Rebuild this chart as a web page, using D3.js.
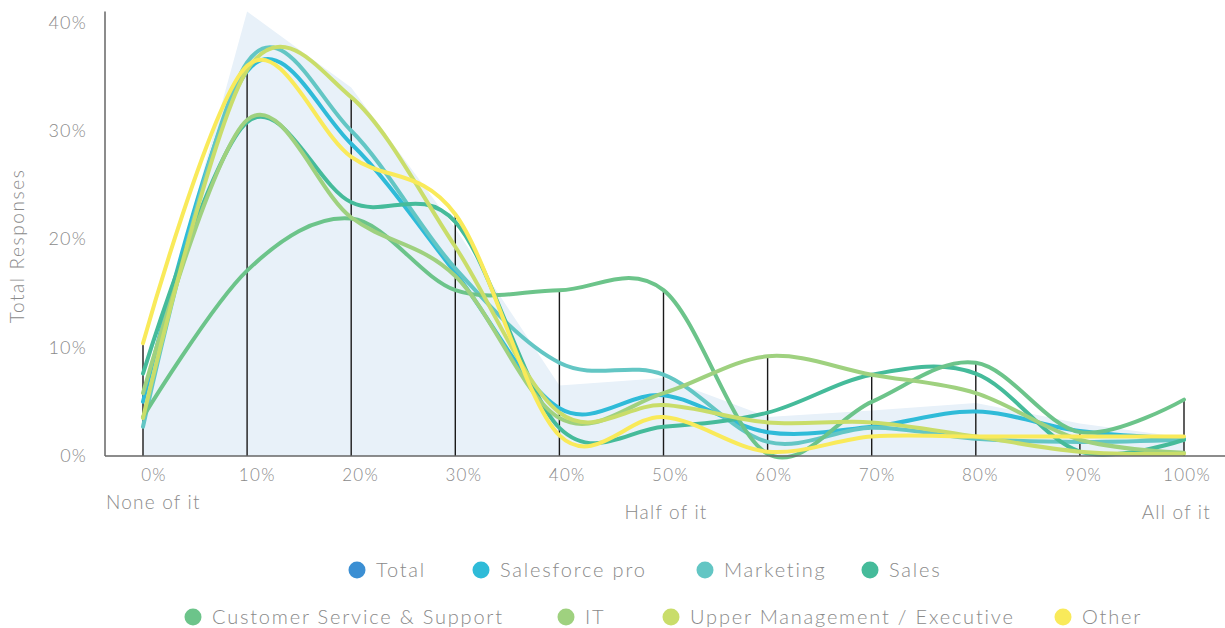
<!DOCTYPE html>
<html>
<head>
<meta charset="utf-8">
<script src="https://cdn.jsdelivr.net/npm/d3@7"></script>
<style>
  html, body { margin: 0; padding: 0; background: #fff; }
  svg { display: block; }
  text { font-family: "Lato", "Open Sans", sans-serif; font-weight: 300; fill: #8a8a8a; }
</style>
</head>
<body>
<svg id="chart" width="1225" height="628"></svg>
<script>
// ---- data ----
const categories = ["0%", "10%", "20%", "30%", "40%", "50%", "60%", "70%", "80%", "90%", "100%"];
const subLabels = ["None of it", "", "", "", "", "Half of it", "", "", "", "", "All of it"];
const yTicks = [0, 10, 20, 30, 40];

const seriesNames = ["Total", "Salesforce pro", "Marketing", "Sales", "Customer Service & Support", "IT", "Upper Management / Executive", "Other"];
const seriesColors = ["#3b8fd3", "#2fbbd8", "#63c6c4", "#45bb9a", "#6cc48a", "#9fd17f", "#c9dd6a", "#f9ea5a"];

const total        = [6.0, 41.0, 34.0, 21.0, 6.5, 7.2, 3.6, 4.2, 4.9, 3.0, 1.7];
const salesforce   = [5.0, 35.5, 28.8, 16.9, 4.4, 5.6, 2.2, 2.7, 4.1, 2.3, 1.6];
const marketing    = [2.7, 36.3, 30.0, 17.3, 8.6, 7.5, 1.3, 2.6, 1.6, 1.3, 1.5];
const sales        = [7.6, 30.8, 23.4, 21.6, 2.6, 2.7, 4.0, 7.5, 7.6, 0.4, 1.5];
const custService  = [3.6, 17.1, 21.9, 15.3, 15.3, 15.3, 0.2, 5.0, 8.6, 2.2, 5.2];
const it           = [5.8, 31.0, 22.0, 16.6, 3.5, 5.8, 9.2, 7.5, 5.8, 1.5, 0.3];
const upperMgmt    = [3.5, 35.6, 33.1, 19.3, 4.0, 4.7, 3.1, 3.1, 1.8, 0.4, 0.2];
const other        = [10.4, 36.0, 27.6, 22.3, 1.9, 3.6, 0.4, 1.8, 1.8, 1.8, 1.8];

const lineSeries = [salesforce, marketing, sales, custService, it, upperMgmt, other];

// ---- layout ----
const svg = d3.select("#chart");
const axisLeft = 105, axisRight = 1225, axisTop = 11.5, axisBottom = 456;

const x = d3.scalePoint().domain(categories).range([143, 1184]);
const xLabel = d3.scalePoint().domain(categories).range([154, 1187]);
const y = d3.scaleLinear().domain([0, 41]).range([axisBottom, axisTop]);

// total area
const area = d3.area()
  .x((d, i) => x(categories[i]))
  .y0(y(0))
  .y1(d => y(d));
svg.append("path")
  .datum(total)
  .attr("d", area)
  .attr("fill", "#e8f1f9");

// drop lines to the max of the group series
const maxVals = categories.map((c, i) => d3.max(lineSeries, s => s[i]));
svg.append("g").selectAll("line")
  .data(maxVals)
  .join("line")
  .attr("x1", (d, i) => x(categories[i]))
  .attr("x2", (d, i) => x(categories[i]))
  .attr("y1", y(0))
  .attr("y2", d => y(d))
  .attr("stroke", "#1a1a1a")
  .attr("stroke-width", 1.4);

// lines
const line = d3.line()
  .x((d, i) => x(categories[i]))
  .y(d => y(d))
  .curve(d3.curveCardinal.tension(0));
svg.append("g").selectAll("path")
  .data(lineSeries)
  .join("path")
  .attr("d", d => line(d))
  .attr("fill", "none")
  .attr("stroke", (d, i) => seriesColors[i + 1])
  .attr("stroke-width", 4)
  .attr("stroke-linecap", "round");

// axes lines
svg.append("line")
  .attr("x1", axisLeft).attr("x2", axisLeft)
  .attr("y1", axisTop).attr("y2", axisBottom)
  .attr("stroke", "#666").attr("stroke-width", 1.5);
svg.append("line")
  .attr("x1", axisLeft).attr("x2", axisRight)
  .attr("y1", axisBottom).attr("y2", axisBottom)
  .attr("stroke", "#666").attr("stroke-width", 1.5);

// y tick labels
svg.append("g").selectAll("text")
  .data(yTicks)
  .join("text")
  .attr("x", 87)
  .attr("y", d => y(d))
  .attr("dy", "0.35em")
  .attr("text-anchor", "end")
  .style("font-size", "18px")
  .style("letter-spacing", "1.2px")
  .text(d => d + "%");

// y title
svg.append("text")
  .attr("transform", "translate(24,246) rotate(-90)")
  .attr("text-anchor", "middle")
  .style("font-size", "19px")
  .style("letter-spacing", "1.6px")
  .text("Total Responses");

// x tick labels
svg.append("g").selectAll("text")
  .data(categories)
  .join("text")
  .attr("x", d => xLabel(d))
  .attr("y", 481)
  .attr("text-anchor", "middle")
  .style("font-size", "17px")
  .style("letter-spacing", "1.3px")
  .text(d => d);

// sub labels
const subAnchors = { "None of it": ["start", 106, 509], "Half of it": ["middle", 666, 519], "All of it": ["end", 1211, 519] };
subLabels.forEach(t => {
  if (!t) return;
  const a = subAnchors[t];
  svg.append("text")
    .attr("x", a[1]).attr("y", a[2])
    .attr("text-anchor", a[0])
    .style("font-size", "19px")
    .style("letter-spacing", "1.2px")
    .text(t);
});

// legend
const legendPos = [[357, 570], [481, 570], [705, 570], [870, 570], [193, 617], [566, 617], [671, 617], [1063, 617]];
const lg = svg.append("g").selectAll("g")
  .data(seriesNames)
  .join("g")
  .attr("transform", (d, i) => `translate(${legendPos[i][0]},${legendPos[i][1]})`);
lg.append("circle").attr("r", 8.5).attr("fill", (d, i) => seriesColors[i]);
lg.append("text")
  .attr("x", 19)
  .attr("dy", "0.35em")
  .style("font-size", "20px")
  .style("letter-spacing", "1.8px")
  .text(d => d);
</script>
</body>
</html>
